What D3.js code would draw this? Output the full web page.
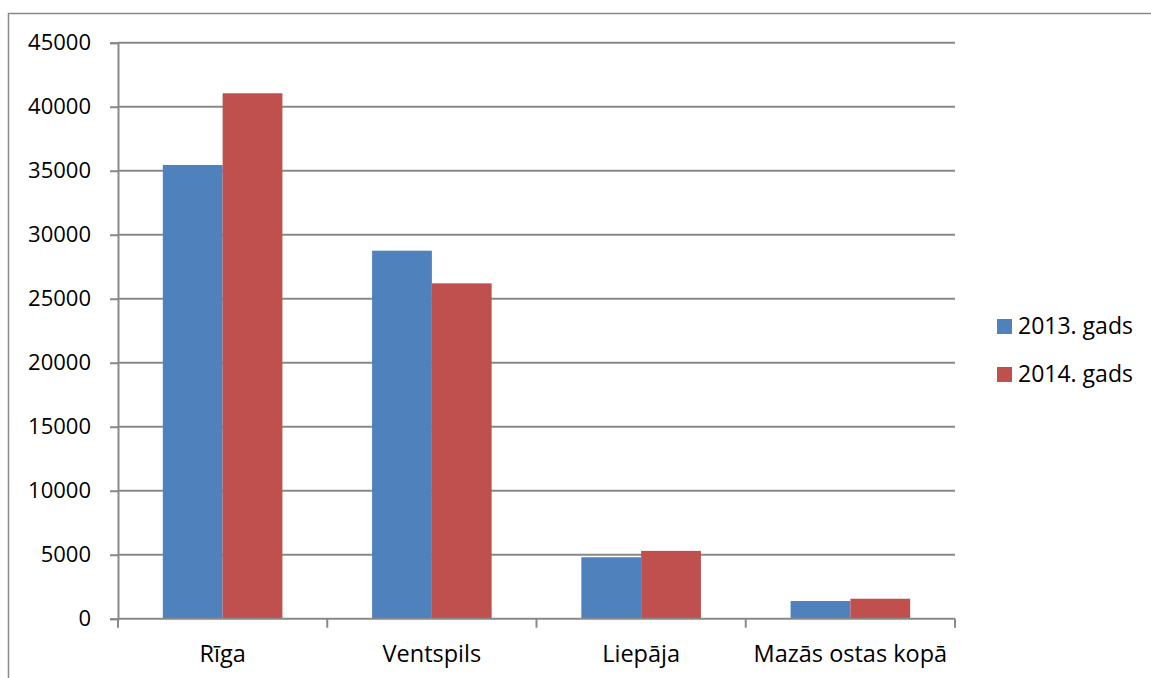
<!DOCTYPE html>
<html>
<head>
<meta charset="utf-8">
<script src="https://cdn.jsdelivr.net/npm/d3@7"></script>
<style>
  body { margin: 0; background: #fff; }
  text { font-family: "Open Sans", sans-serif; font-size: 22px; fill: #000; }
</style>
</head>
<body>
<div id="chart"></div>
<script>
var ports = ["Rīga", "Ventspils", "Liepāja", "Mazās ostas kopā"];
var series = ["2013. gads", "2014. gads"];
var values2013 = [35450, 28750, 4800, 1380];
var values2014 = [41050, 26200, 5300, 1560];
var yTicks = [0, 5000, 10000, 15000, 20000, 25000, 30000, 35000, 40000, 45000];
var colors = ["#4f81bd", "#c0504d"];

var W = 1151, H = 678;
var margin = { top: 42.7, left: 118 };
var width = 837, height = 576;
var gray = "#898989";

var svg = d3.select("#chart").append("svg")
  .attr("width", W).attr("height", H);

// outer frame (only top and left visible)
svg.append("path")
  .attr("d", "M8.5," + H + "V13.5H" + W)
  .attr("fill", "none").attr("stroke", gray).attr("stroke-width", 1.5);

var g = svg.append("g")
  .attr("transform", "translate(" + margin.left + "," + margin.top + ")");

var y = d3.scaleLinear().domain([0, 45000]).range([height, 0]);
var x0 = d3.scaleBand().domain(ports).range([0, width]);
var x1 = d3.scaleBand().domain(series).range([0, x0.bandwidth()]).paddingOuter(0.75);

// gridlines
g.selectAll(".grid").data(yTicks.slice(1))
  .enter().append("line")
  .attr("x1", 0).attr("x2", width)
  .attr("y1", function(d) { return y(d); })
  .attr("y2", function(d) { return y(d); })
  .attr("stroke", gray).attr("stroke-width", 2);

// bars
var rows = ports.map(function(p, i) {
  return { port: p, vals: [values2013[i], values2014[i]] };
});
var grp = g.selectAll(".port").data(rows)
  .enter().append("g")
  .attr("transform", function(d) { return "translate(" + x0(d.port) + ",0)"; });
grp.selectAll("rect").data(function(d) { return d.vals; })
  .enter().append("rect")
  .attr("x", function(d, i) { return x1(series[i]); })
  .attr("width", x1.bandwidth())
  .attr("y", function(d) { return y(d); })
  .attr("height", function(d) { return height - y(d); })
  .attr("fill", function(d, i) { return colors[i]; });

// y axis
var yAxis = g.append("g")
  .call(d3.axisLeft(y).tickValues(yTicks).tickSize(8).tickPadding(19).tickFormat(d3.format("d")));
yAxis.select(".domain").attr("stroke", gray).attr("stroke-width", 2);
yAxis.selectAll(".tick line").attr("stroke", gray).attr("stroke-width", 2);
yAxis.selectAll("text").style("font-size", "22px").style("font-family", "'Open Sans', sans-serif").attr("fill", "#000");

// x axis
var xa = g.append("g").attr("transform", "translate(0," + height + ")");
xa.append("line").attr("x1", 0).attr("x2", width)
  .attr("stroke", gray).attr("stroke-width", 2);
var bounds = ports.map(function(p) { return x0(p); }).concat([width]);
xa.selectAll(".xt").data(bounds)
  .enter().append("line")
  .attr("x1", function(d) { return d; }).attr("x2", function(d) { return d; })
  .attr("y1", 0).attr("y2", 9)
  .attr("stroke", gray).attr("stroke-width", 2);
xa.selectAll(".xl").data(ports)
  .enter().append("text")
  .attr("x", function(d) { return x0(d) + x0.bandwidth() / 2; })
  .attr("y", 43)
  .attr("text-anchor", "middle")
  .style("font-size", "23.5px")
  .text(function(d) { return d; });

// legend
var leg = svg.selectAll(".legend").data(series)
  .enter().append("g")
  .attr("transform", function(d, i) { return "translate(997," + (319 + i * 48) + ")"; });
leg.append("rect").attr("width", 15).attr("height", 15)
  .attr("fill", function(d, i) { return colors[i]; });
leg.append("text").attr("x", 21).attr("y", 14.5)
  .style("font-size", "23px")
  .text(function(d) { return d; });
</script>
</body>
</html>
